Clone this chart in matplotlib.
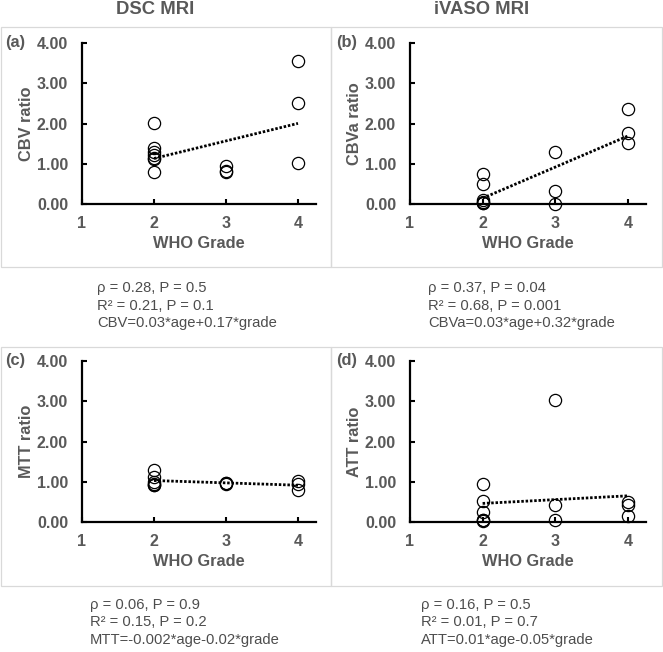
import matplotlib
matplotlib.use("Agg")
import matplotlib.pyplot as plt
from matplotlib.patches import Rectangle
import numpy as np

plt.rcParams['font.family'] = ['Liberation Sans', 'DejaVu Sans']

W, H = 663, 652
GRAY = '#595959'

# WHO grade of every case and the ratio measured for it
grade_dsc = [2, 2, 2, 2, 2, 2, 2, 3, 3, 3, 4, 4, 4]
cbv = [2.02, 1.38, 1.30, 1.22, 1.15, 1.11, 0.80, 0.95, 0.83, 0.80, 3.55, 2.51, 1.01]

grade_ivaso = [2, 2, 2, 2, 2, 2, 3, 3, 3, 4, 4, 4]
cbva = [0.74, 0.49, 0.10, 0.06, 0.03, 0.02, 1.28, 0.32, 0.00, 2.35, 1.77, 1.52]

grade_mtt = [2, 2, 2, 2, 2, 2, 3, 3, 3, 4, 4, 4]
mtt = [1.28, 1.12, 1.00, 0.95, 0.92, 0.93, 0.97, 0.95, 0.96, 1.01, 0.80, 0.95]

grade_att = [2, 2, 2, 2, 2, 2, 3, 3, 3, 4, 4, 4]
att = [0.95, 0.53, 0.25, 0.06, 0.03, 0.04, 3.02, 0.41, 0.06, 0.49, 0.41, 0.14]

titles = ['DSC MRI', 'iVASO MRI']
tags = ['(a)', '(b)', '(c)', '(d)']
ylabels = ['CBV ratio', 'CBVa ratio', 'MTT ratio', 'ATT ratio']
xticks = [1, 2, 3, 4]
yticks = [0, 1, 2, 3, 4]

stats = [
    ['ρ = 0.28, P = 0.5', 'R² = 0.21, P = 0.1', 'CBV=0.03*age+0.17*grade'],
    ['ρ = 0.37, P = 0.04', 'R² = 0.68, P = 0.001', 'CBVa=0.03*age+0.32*grade'],
    ['ρ = 0.06, P = 0.9', 'R² = 0.15, P = 0.2', 'MTT=-0.002*age-0.02*grade'],
    ['ρ = 0.16, P = 0.5', 'R² = 0.01, P = 0.7', 'ATT=0.01*age-0.05*grade'],
]

xs = [grade_dsc, grade_ivaso, grade_mtt, grade_att]
ys = [cbv, cbva, mtt, att]

# layout in pixels (left, top, right, bottom) of each plot area and frame box
axes_px = [(82, 43, 316, 204), (410, 43, 646, 204),
           (82, 361, 316, 522), (410, 361, 646, 522)]
boxes_px = [(0.5, 27, 331, 267), (331, 27, 661.5, 267),
            (0.5, 347, 331, 586), (331, 347, 661.5, 586)]
stats_px = [(97, 292), (428, 292), (90, 609), (421, 609)]
tags_px = [5, 336, 5, 336]

fig = plt.figure(figsize=(W / 100, H / 100), dpi=100)

for (l, t, r, b) in boxes_px:
    fig.patches.append(Rectangle((l / W, 1 - b / H), (r - l) / W, (b - t) / H,
                                 transform=fig.transFigure, fill=False,
                                 edgecolor='#d9d9d9', lw=0.9))

for i in range(4):
    l, t, r, b = axes_px[i]
    ax = fig.add_axes([l / W, 1 - b / H, (r - l) / W, (b - t) / H])
    x = np.array(xs[i], dtype=float)
    y = np.array(ys[i], dtype=float)
    ax.plot(x, y, 'o', ms=8.8, mfc='none', mec='black', mew=0.9, clip_on=False, zorder=3)
    # linear trend line
    k, c = np.polyfit(x, y, 1)
    tx = np.array([x.min(), x.max()])
    ax.plot(tx, k * tx + c, color='black', lw=2.0, dashes=(0.9, 0.65), zorder=4)

    ax.set_xlim(1, 4.25)
    ax.set_ylim(0, 4)
    ax.set_xticks(xticks)
    ax.set_yticks(yticks)
    ax.set_yticklabels(['%.2f' % v for v in yticks])
    for s in ['top', 'right']:
        ax.spines[s].set_visible(False)
    for s in ['left', 'bottom']:
        ax.spines[s].set_linewidth(1.6)
        ax.spines[s].set_color('black')
    ax.tick_params(direction='in', length=3.5, width=1.5, colors='black',
                   labelcolor=GRAY, labelsize=11.5)
    ax.tick_params(axis='x', pad=9)
    ax.tick_params(axis='y', pad=10)
    for lab in ax.get_xticklabels() + ax.get_yticklabels():
        lab.set_fontweight('bold')
    ax.set_xlabel('WHO Grade', fontsize=11.8, fontweight='bold', color=GRAY)
    ax.set_ylabel(ylabels[i], fontsize=11.8, fontweight='bold', color=GRAY)
    ax.xaxis.set_label_coords(0.5, -0.2)
    ax.yaxis.set_label_coords(-0.205, 0.5)
    ax.patch.set_alpha(0)

    fig.text(tags_px[i] / W, 1 - (t - 1) / H, tags[i], fontsize=11.8,
             fontweight='bold', color=GRAY, ha='left', va='center')

    sx, sy = stats_px[i]
    for j, line in enumerate(stats[i]):
        fig.text(sx / W, 1 - (sy + j * 17.5) / H, line, fontsize=10.6,
                 color='#4d4d4d', ha='left', va='baseline')

fig.text(155 / W, 1 - 10 / H, titles[0], fontsize=13.3, fontweight='bold',
         color=GRAY, ha='center', va='center')
fig.text(482 / W, 1 - 10 / H, titles[1], fontsize=13.3, fontweight='bold',
         color=GRAY, ha='center', va='center')

fig.savefig('out.png', dpi=100, facecolor='white')
